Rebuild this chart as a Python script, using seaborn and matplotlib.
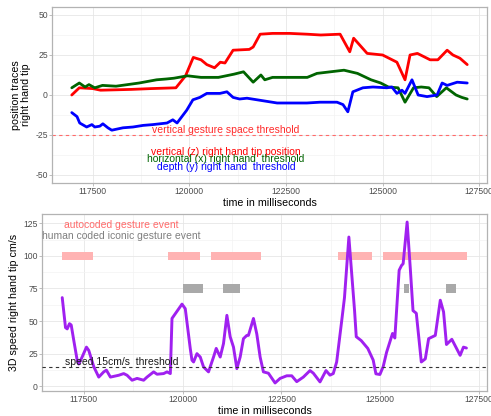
import numpy as np
import pandas as pd
import matplotlib
matplotlib.use("Agg")
import matplotlib.pyplot as plt
from matplotlib.ticker import FixedLocator, MultipleLocator
import seaborn as sns

# ---- position traces of the right hand tip (ms, cm) ----
z_time = [116955, 117150, 117500, 117700, 118500, 119000, 119650, 119900, 120100,
          120300, 120450, 120650, 120800, 120920, 121130, 121550, 121650, 121830,
          122150, 122600, 123050, 123400, 123900, 124150, 124250, 124600, 125000,
          125370, 125580, 125710, 125900, 126230, 126430, 126670, 126820, 127000, 127190]
z_pos = [0, 4.5, 4, 3, 3.5, 4, 4.5, 12, 23.5,
         22, 19, 17, 20.5, 20, 28, 28.5, 30, 38,
         38.5, 38.5, 38, 37.5, 38, 27, 35.5, 26, 25,
         20.5, 9.5, 25, 26, 22, 22, 28, 25, 23, 19]

x_time = [116955, 117150, 117300, 117400, 117550, 117750, 118100, 118700, 119150,
          119400, 119600, 119950, 120300, 120750, 121150, 121400, 121650, 121850,
          121950, 122150, 123050, 123300, 123650, 124000, 124350, 124700, 124950,
          125150, 125400, 125580, 125800, 126000, 126200, 126400, 126650, 126900,
          127050, 127190]
x_pos = [4.5, 7.5, 5, 6.5, 4.5, 6, 5.5, 7.5, 9.5,
         10, 10.5, 12, 11, 11, 13, 14.5, 8, 12.5,
         9.5, 11, 11, 13.5, 14.5, 15.5, 13.5, 9.5, 7.5,
         5, 4.5, -4.5, 4.5, 5, 4.5, -1, 4.5, 0,
         -1.5, -2.5]

y_time = [116955, 117090, 117160, 117340, 117475, 117550, 117680, 117760, 117890,
          117990, 118280, 118540, 118800, 119050, 119420, 119570, 119680, 119930,
          120090, 120270, 120450, 120790, 120970, 121130, 121300, 121490, 121750,
          122270, 123040, 123380, 123820, 123975, 124100, 124230, 124490, 124750,
          125110, 125240, 125370, 125500, 125580, 125760, 125920, 126150, 126410,
          126540, 126670, 126930, 127190]
y_pos = [-11, -13.5, -17.5, -20, -18.5, -20, -19.5, -18, -20.5,
         -22, -20.5, -20, -19, -18.5, -17.5, -15.5, -17.5, -9.5,
         -3, -1.5, 1, 1, 2, -1.5, -2.5, -2, -3,
         -5, -5, -4.5, -4.5, -6, -10.5, 2, 4.5, 5,
         4.5, 5, 1, 3, 1, 9.5, 0, -1, 0,
         7.5, 6, 8, 7.5]

vertical_threshold = -25

# ---- 3D speed of the right hand tip (ms, cm/s) ----
speed_time = [116955, 117038, 117081, 117139, 117182, 117248, 117333, 117374, 117460,
              117568, 117626, 117753, 117879, 118005, 118073, 118174, 118384, 118510,
              118596, 118722, 118848, 119015, 119100, 119268, 119353, 119520, 119606,
              119690, 119732, 119985, 120068, 120194, 120237, 120278, 120363, 120447,
              120530, 120656, 120783, 120851, 120952, 121035, 121121, 121204, 121288,
              121373, 121457, 121540, 121626, 121666, 121793, 121878, 121962, 122045,
              122171, 122340, 122467, 122636, 122762, 122888, 123055, 123224, 123308,
              123477, 123628, 123729, 123812, 123898, 124025, 124096, 124207, 124267,
              124351, 124394, 124520, 124686, 124823, 124891, 124992, 125075, 125161,
              125312, 125370, 125479, 125540, 125580, 125681, 125762, 125830, 125913,
              126040, 126141, 126225, 126394, 126520, 126603, 126676, 126812, 127022,
              127106, 127181]
speed_val = [68, 45, 44, 48, 47, 35, 20, 17, 22.5,
             30, 27.5, 15, 7, 11, 12.3, 7, 8.4, 9.7,
             8.4, 4.6, 6, 4.6, 7, 11, 9.2, 9.7, 11,
             9.7, 52, 63, 59.5, 29, 20, 18.6, 25, 22.4,
             14.8, 11, 22.4, 29, 22.4, 32.7, 54.4, 38, 30,
             13.5, 22.4, 36.5, 39, 39, 52, 40, 22.4, 11,
             10, 2.5, 6, 8, 8, 3.5, 7, 12, 10,
             3.3, 12, 8.5, 9.7, 18.6, 50, 68, 114.5, 91,
             58, 38, 35, 29, 20, 9.5, 9, 15, 26,
             40.5, 37, 89, 92.7, 94, 126, 90, 58, 56,
             18.6, 21, 36.5, 39, 66, 57, 32, 36, 23.7,
             30, 29.3]

speed_threshold = 15

# gesture events: start / end in ms
auto_start = [116955, 119620, 120725, 123940, 125075]
auto_end = [117727, 120447, 121987, 124798, 127189]
human_start = [120000, 121020, 125606, 126677]
human_end = [120515, 121450, 125732, 126930]
auto_level = 100
human_level = 75

x_ticks = [117500, 120000, 122500, 125000, 127500]
x_tick_labels = ["117500", "120000", "122500", "125000", "127500"]

sns.set_theme(style="white")
plt.rcParams["font.family"] = ["Liberation Sans", "DejaVu Sans"]
plt.rcParams["axes.unicode_minus"] = False

fig = plt.figure(figsize=(4.91, 4.16), dpi=100)
ax1 = fig.add_axes([52 / 491, 1 - 183 / 416, 435 / 491, 176 / 416])
ax2 = fig.add_axes([42 / 491, 1 - 391 / 416, 445 / 491, 177 / 416])

TICK_FS = 6.2
TITLE_FS = 7.7
ANN_FS = 7.5


def style_axes(ax, y_major, y_minor):
    ax.set_facecolor("white")
    ax.xaxis.set_major_locator(FixedLocator(x_ticks))
    ax.set_xticklabels(x_tick_labels)
    ax.xaxis.set_minor_locator(MultipleLocator(1250))
    ax.yaxis.set_major_locator(MultipleLocator(y_major))
    ax.yaxis.set_minor_locator(MultipleLocator(y_minor))
    ax.grid(which="major", color="#E6E6E6", linewidth=0.6)
    ax.grid(which="minor", color="#F3F3F3", linewidth=0.5)
    ax.set_axisbelow(True)
    for side in ["left", "bottom", "right", "top"]:
        ax.spines[side].set_visible(True)
        ax.spines[side].set_color("#B3B3B3")
        ax.spines[side].set_linewidth(0.9)
    ax.tick_params(axis="both", which="major", length=2.0, width=0.6, color="#B3B3B3",
                   labelsize=TICK_FS, labelcolor="#4D4D4D", pad=1.0,
                   bottom=True, left=True)
    ax.tick_params(axis="both", which="minor", length=0)
    ax.set_xlabel("time in milliseconds", fontsize=TITLE_FS, color="black", labelpad=1.5)


# ---- top panel: position traces ----
traces = pd.concat([
    pd.DataFrame({"time": z_time, "pos": z_pos, "dim": "z"}),
    pd.DataFrame({"time": x_time, "pos": x_pos, "dim": "x"}),
    pd.DataFrame({"time": y_time, "pos": y_pos, "dim": "y"}),
])
sns.lineplot(data=traces, x="time", y="pos", hue="dim",
             palette={"z": "#FF0000", "x": "#006400", "y": "#0000FF"},
             linewidth=2.0, legend=False, ax=ax1, sort=False)
ax1.axhline(vertical_threshold, color="#FF6A6A", linestyle=(0, (3, 3)), linewidth=0.8)
ax1.set_ylim(-55, 55)
style_axes(ax1, 25, 12.5)
ax1.set_ylabel("position traces\nright hand tip", fontsize=TITLE_FS, color="black",
               labelpad=3, linespacing=1.0)

ann_x = 120950
ax1.text(ann_x, -22, "vertical gesture space threshold", color="#FF2A2A",
         fontsize=ANN_FS, ha="center", va="center")
ax1.text(ann_x, -35.5, "vertical (z) right hand tip position", color="#FF0000",
         fontsize=ANN_FS, ha="center", va="center")
ax1.text(ann_x, -40.2, "horizontal (x) right hand  threshold", color="#006400",
         fontsize=ANN_FS, ha="center", va="center")
ax1.text(ann_x, -44.8, "depth (y) right hand  threshold", color="#0000FF",
         fontsize=ANN_FS, ha="center", va="center")

# ---- bottom panel: speed with gesture events ----
ax2.barh([auto_level] * len(auto_start),
         np.array(auto_end) - np.array(auto_start), left=auto_start,
         height=6.4, color="#FFB3B3", edgecolor="none", zorder=2)
ax2.barh([human_level] * len(human_start),
         np.array(human_end) - np.array(human_start), left=human_start,
         height=6.6, color="#A9A9A9", edgecolor="none", zorder=2)
speed = pd.DataFrame({"time": speed_time, "speed": speed_val})
sns.lineplot(data=speed, x="time", y="speed", color="#A020F0", linewidth=2.1,
             ax=ax2, zorder=3, sort=False)
ax2.axhline(speed_threshold, color="#333333", linestyle=(0, (3, 3)), linewidth=0.8,
            zorder=4)
style_axes(ax2, 25, 12.5)
ax2.set_ylabel("3D speed right hand tip cm/s", fontsize=TITLE_FS, color="black",
               labelpad=3)
ax2.set_xlim(ax1.get_xlim())

ann2_x = 118450
ax2.text(ann2_x, 124, "autocoded gesture event", color="#FF6B6B",
         fontsize=ANN_FS, ha="center", va="center", zorder=5)
ax2.text(ann2_x, 115, "human coded iconic gesture event", color="#7F7F7F",
         fontsize=ANN_FS, ha="center", va="center", zorder=5, clip_on=True)
ax2.text(ann2_x, 18.4, "speed 15cm/s  threshold", color="#1A1A1A",
         fontsize=ANN_FS, ha="center", va="center", zorder=5)

fig.savefig("out.png", dpi=100)
